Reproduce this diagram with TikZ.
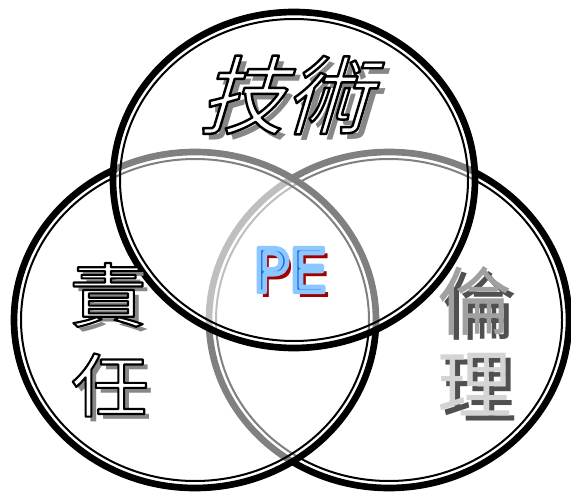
\documentclass[tikz,border=0pt]{standalone}
\usepackage{fontspec}
\usepackage{xcolor}
\usetikzlibrary{positioning}

\newfontfamily\cjkfont{Noto Sans CJK TC}
\newfontfamily\cjkslant[FakeSlant=0.3]{Noto Sans CJK TC}
\newfontfamily\cjkwide[FakeStretch=1.12]{Noto Sans CJK TC}
\newfontfamily\pefont{DejaVu Sans}

\definecolor{peblue}{RGB}{25,110,215}
\definecolor{pered}{RGB}{160,0,0}
\definecolor{shadowgray}{RGB}{135,135,135}
\definecolor{ethgray}{RGB}{160,160,160}
\definecolor{ethdark}{RGB}{80,80,80}

% outlined glyphs: fill in the node's text colour, stroke as given
\newcommand{\outlined}[3]{\special{pdf:literal direct #1 RG #2 w 1 j 2 Tr}#3\special{pdf:literal direct 0 Tr}}

\tikzset{
  ringout/.style={draw=black, line width=5pt, fill=white, fill opacity=0.5, draw opacity=1},
  ringin/.style={draw=black, line width=1.5pt},
  bigtxt/.style={inner sep=0pt, anchor=center},
}

\begin{document}
\begin{tikzpicture}[x=0.75pt,y=0.75pt,yscale=-1,xscale=1]
    \useasboundingbox (0,0) rectangle (571,492);

    %Shape: Ellipse (right)
    \path [ringout] (389,320) ellipse (180 and 168);
    \draw [ringin] (389,320) ellipse (173 and 161);
    %Shape: Ellipse (left)
    \path [ringout] (195,320) ellipse (181 and 168);
    \draw [ringin] (195,320) ellipse (174 and 161);
    %Shape: Ellipse (top)
    \path [ringout] (294,180) ellipse (181 and 168);
    \draw [ringin] (294,180) ellipse (174 and 161);

    % Text Node: top
    \node [bigtxt, text=shadowgray] (gishu-sh) at (290,101) {\fontsize{64}{64}\cjkslant 技術};
    \node [bigtxt, text=white] (gishu) at (284,95) {\fontsize{64}{64}\cjkslant\outlined{0 0 0}{1.8}{技術}};

    % Text Node: left
    \node [bigtxt, text=shadowgray] (seki-sh) at (113,300) {\fontsize{52}{52}\cjkwide 責};
    \node [bigtxt, text=white] (seki) at (108,295) {\fontsize{52}{52}\cjkwide\outlined{0 0 0}{1.6}{責}};
    \node [bigtxt, text=shadowgray] (nin-sh) at (115,390) {\fontsize{52}{52}\cjkwide 任};
    \node [bigtxt, text=white] (nin) at (110,385) {\fontsize{52}{52}\cjkwide\outlined{0 0 0}{1.6}{任}};

    % Text Node: right
    \node [bigtxt, text=ethdark] (rin-sh) at (480,306) {\fontsize{56}{56}\cjkfont 倫};
    \node [bigtxt, text=ethgray] (rin) at (475,301) {\fontsize{56}{56}\cjkfont 倫};
    \node [bigtxt, text=ethdark] (ri-sh) at (480,390) {\fontsize{56}{56}\cjkfont 理};
    \node [bigtxt, text=ethgray!45] (ri) at (475,385) {\fontsize{56}{56}\cjkfont 理};

    % Text Node: centre
    \node [bigtxt, text=pered] (pe-sh) at (295,276) {\fontsize{45}{45}\pefont PE};
    \node [bigtxt, text=peblue] (pe) at (290,270) {\fontsize{45}{45}\pefont\outlined{0.55 0.78 1}{3.5}{PE}};

\end{tikzpicture}
\end{document}
